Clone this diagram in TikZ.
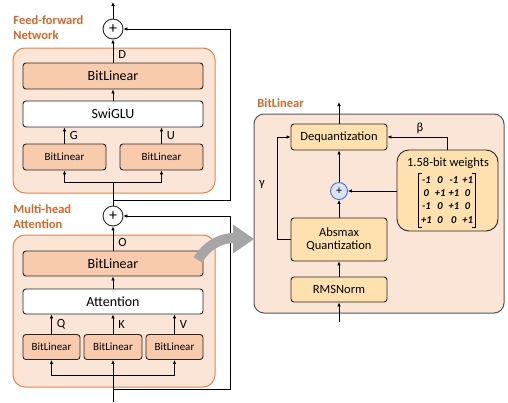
\documentclass[tikz,border=0pt]{standalone}
\usepackage{fontspec}
\setmainfont{Carlito}
\usetikzlibrary{positioning,arrows.meta}
\definecolor{grpfill}{HTML}{FBE5D6}
\definecolor{grpedge}{HTML}{E08448}
\definecolor{grptext}{HTML}{D0672C}
\definecolor{blfill}{HTML}{F8CBAD}
\definecolor{qfill}{HTML}{FEE1AE}
\definecolor{edge}{HTML}{262626}
\definecolor{paneledge}{HTML}{4F5962}
\definecolor{addfill}{HTML}{DAE3F3}
\definecolor{addedge}{HTML}{4472C4}
\definecolor{bigarrow}{HTML}{A6A6A6}
\tikzset{
  grp/.style={draw=grpedge, fill=grpfill, rounded corners=12pt, line width=1pt},
  panel/.style={draw=paneledge, fill=grpfill, rounded corners=10pt, line width=1pt},
  box/.style={draw=edge, rounded corners=3pt, line width=0.9pt, inner sep=0pt, align=center},
  bigbox/.style={box, fill=blfill, minimum width=180pt, minimum height=26pt, font=\fontsize{14}{16}\selectfont},
  smallbox/.style={box, fill=blfill, minimum height=25pt, font=\fontsize{11}{13}\selectfont},
  qbox/.style={box, fill=qfill, minimum width=96pt, font=\fontsize{12.5}{14}\selectfont},
  add/.style={circle, draw=edge, fill=white, line width=0.9pt, minimum size=20pt, inner sep=0pt, font=\fontsize{16}{16}\selectfont},
  lbl/.style={anchor=north west, inner sep=0pt, align=left, text=grptext, font=\fontsize{12.5}{15}\selectfont\bfseries},
  tag/.style={inner sep=0pt, font=\fontsize{12.5}{14}\selectfont},
}
\begin{document}
\begin{tikzpicture}[x=1pt, y=-1pt, line width=0.9pt, >={Latex[length=4pt,width=3.6pt]}]
\useasboundingbox (0,0) rectangle (508,402);

% feed-forward network
\node[grp, minimum width=202pt, minimum height=145pt] (ffn) at (114,120.5) {};
\node[lbl] (ffnlbl) at (13,15) {Feed-forward\\Network};
\node[add] (addF) at (113,29) {+};
\coordinate (top) at (113,2);
\node[bigbox] (ffnD) at (113,76) {BitLinear};
\node[bigbox, fill=white] (swiglu) at (113,114) {SwiGLU};
\node[smallbox, minimum width=83pt, minimum height=26pt] (ffnG) at (64.5,157) {BitLinear};
\node[smallbox, minimum width=83pt, minimum height=26pt] (ffnU) at (161.5,157) {BitLinear};
\coordinate (ffnsplit) at (113,182);
\coordinate (resF) at (113,200);

% multi-head attention
\node[grp, minimum width=202pt, minimum height=152pt] (mha) at (114,311) {};
\node[lbl] (mhalbl) at (13,204) {Multi-head\\Attention};
\node[add] (addA) at (113,216) {+};
\node[bigbox, minimum height=25pt] (mhaO) at (113,263.5) {BitLinear};
\node[bigbox, fill=white, minimum height=25pt] (attn) at (113,301.5) {Attention};
\node[smallbox, minimum width=57pt] (mhaQ) at (51.5,347) {BitLinear};
\node[smallbox, minimum width=58pt] (mhaK) at (113,347) {BitLinear};
\node[smallbox, minimum width=57pt] (mhaV) at (174.5,347) {BitLinear};
\coordinate (mhasplit) at (113,375);
\coordinate (resA) at (113,389);
\coordinate (in) at (113,402);

% connectors, left
\draw[->] (addF.north) -- (top);
\draw[->] (ffnD.north) -- node[tag, pos=.35, right=5pt] {D} (addF.south);
\draw[->] (swiglu.north) -- (ffnD.south);
\draw[->] (ffnG.north) -- node[tag, right=5pt] {G} (ffnG.north |- swiglu.south);
\draw[->] (ffnU.north) -- node[tag, right=5pt] {U} (ffnU.north |- swiglu.south);
\draw (addA.north) -- (ffnsplit);
\draw[->] (ffnsplit) -| (ffnG.south);
\draw[->] (ffnsplit) -| (ffnU.south);
\draw[->] (resF) -- ++(117,0) |- (addF.east);

\draw[->] (mhaO.north) -- node[tag, pos=.35, right=5pt] {O} (addA.south);
\draw[->] (attn.north) -- (mhaO.south);
\draw[->] (mhaQ.north) -- node[tag, right=5pt] {Q} (mhaQ.north |- attn.south);
\draw[->] (mhaK.north) -- node[tag, right=5pt] {K} (attn.south);
\draw[->] (mhaV.north) -- node[tag, right=5pt] {V} (mhaV.north |- attn.south);
\draw (in) -- (mhasplit);
\draw[->] (mhasplit) -- (mhaK.south);
\draw[->] (mhasplit) -| (mhaQ.south);
\draw[->] (mhasplit) -| (mhaV.south);
\draw[->] (resA) -- ++(117,0) |- (addA.east);

% BitLinear in detail
\node[panel, minimum width=250pt, minimum height=199pt] (bl) at (379,213.5) {};
\node[lbl, anchor=west] (bllbl) at (257,103) {BitLinear};
\node[qbox, minimum height=26pt] (deq) at (339,137) {Dequantization};
\node[add, draw=addedge, fill=addfill, minimum size=17pt, font=\fontsize{12}{12}\selectfont] (addB) at (339,191) {+};
\node[qbox, minimum height=43pt] (absq) at (339,239.5) {Absmax\\[-1pt]Quantization};
\node[qbox, minimum height=25pt] (rms) at (339,289.5) {RMSNorm};
\node[box, fill=qfill, rounded corners=12pt, minimum width=101pt, minimum height=81pt] (wts) at (447.5,190.5) {};
\node[tag] (wtitle) at (448,163) {1.58-bit weights};
\node[inner xsep=2.5pt, inner ysep=0pt, font=\fontsize{10.5}{13.3}\selectfont\bfseries\itshape] (wmat) at (447,200.5) {%
  \setlength{\tabcolsep}{1.6pt}\begin{tabular}{@{}cccc@{}}
  -1 & 0 & -1 & +1\\
  0 & +1 & +1 & 0\\
  -1 & 0 & +1 & 0\\
  +1 & 0 & 0 & +1
  \end{tabular}};
\draw[line width=0.8pt] ([xshift=3.5pt]wmat.north west) -- (wmat.north west) -- (wmat.south west) -- ([xshift=3.5pt]wmat.south west);
\draw[line width=0.8pt] ([xshift=-3.5pt]wmat.north east) -- (wmat.north east) -- (wmat.south east) -- ([xshift=-3.5pt]wmat.south east);
\coordinate (blout) at (339,102);
\coordinate (blin) at (339,322);

% connectors, right
\draw[->] (deq.north) -- (blout);
\draw[->] (blin) -- (rms.south);
\draw[->] (rms.north) -- (absq.south);
\draw[->] (absq.north) -- (addB.south);
\draw[->] (addB.north) -- (deq.south);
\draw[->] (wts.west |- addB) -- (addB.east);
\draw[->] (wts.north) |- (deq.east);
\draw[->] (absq.west) -- ++(-13,0) |- (deq.west);
\node[tag] (beta) at (420,128) {β};
\node[tag] (gamma) at (262,184) {γ};

% grey pointer
\draw[bigarrow, line width=10pt] (198,260) .. controls (206,246) and (220,238) .. (234,238);
\fill[bigarrow] (233,224.5) -- (254,239) -- (233,253.5) -- cycle;
\end{tikzpicture}
\end{document}
